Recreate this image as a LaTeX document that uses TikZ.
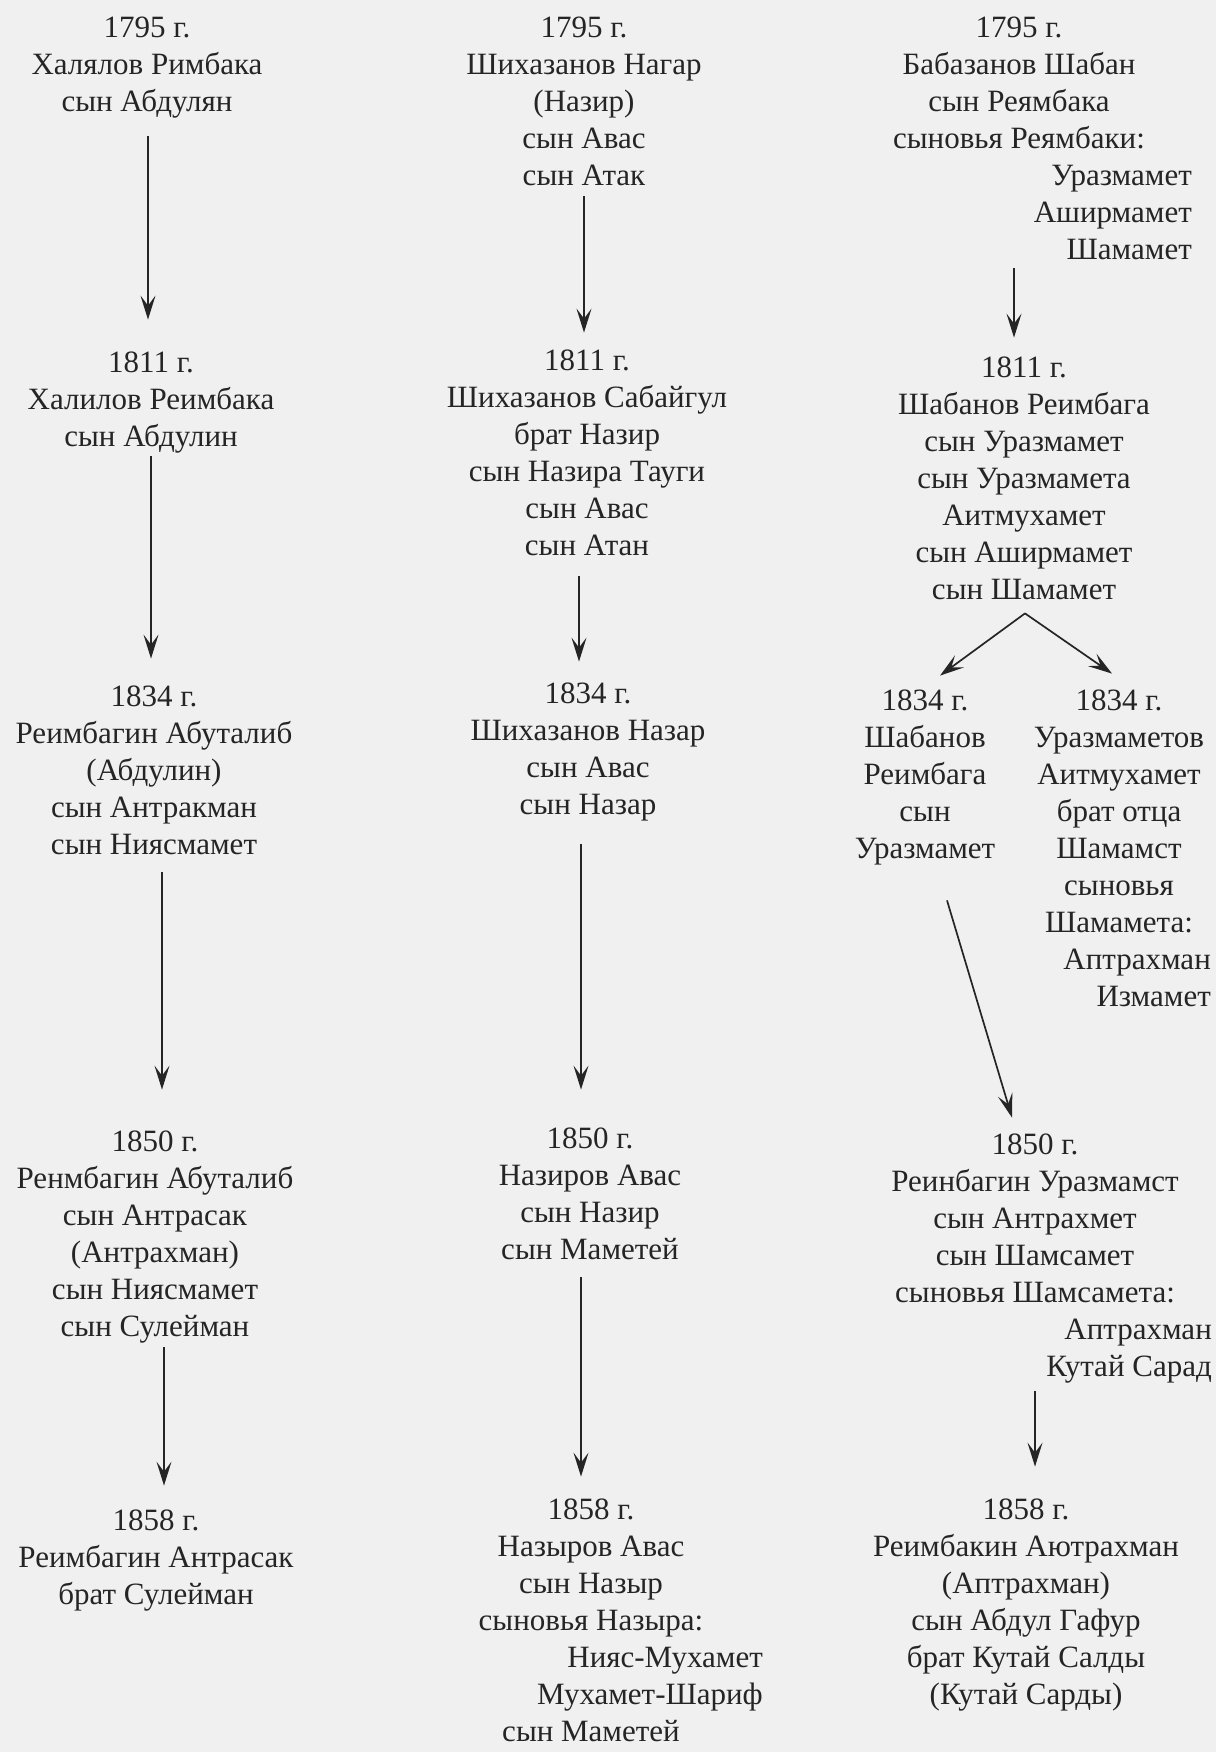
\documentclass[tikz,border=0pt]{standalone}
\usepackage{fontspec}
\setmainfont{Liberation Serif}
\usetikzlibrary{arrows.meta,fit,calc}
\definecolor{bg}{HTML}{F0F0F0}
\definecolor{ink}{HTML}{252525}
\newcommand\tlc[4]{\node[txt,anchor=base] (#1) at (#2,#3) {#4};}
\newcommand\tlr[4]{\node[txt,anchor=base east] (#1) at (#2,#3) {#4};}
\begin{document}
\begin{tikzpicture}[x=1pt,y=-1pt,
  txt/.style={inner sep=0pt, text=ink, font=\fontsize{31}{37}\selectfont, text height=22pt, text depth=7pt},
  blk/.style={inner sep=0pt, draw=none},
  arr/.style={draw=ink, line width=1.7pt, -{Stealth[length=24pt,width=15pt,inset=10pt]}}]
\fill[bg] (0,0) rectangle (1216,1752);
\useasboundingbox (0,0) rectangle (1216,1752);
% ---------- column 1
\tlc{a11}{147}{38}{1795 г.}
\tlc{a12}{147}{75}{Халялов Римбака}
\tlc{a13}{147}{112}{сын Абдулян}
\node[blk, fit=(a11)(a12)(a13)] (A1) {};
\tlc{a21}{151}{372}{1811 г.}
\tlc{a22}{151}{409}{Халилов Реимбака}
\tlc{a23}{151}{446}{сын Абдулин}
\node[blk, fit=(a21)(a22)(a23)] (A2) {};
\tlc{a31}{154}{706}{1834 г.}
\tlc{a32}{154}{743}{Реимбагин Абуталиб}
\tlc{a33}{154}{780}{(Абдулин)}
\tlc{a34}{154}{817}{сын Антракман}
\tlc{a35}{154}{854}{сын Ниясмамет}
\node[blk, fit=(a31)(a32)(a35)] (A3) {};
\tlc{a41}{155}{1151}{1850 г.}
\tlc{a42}{155}{1188}{Ренмбагин Абуталиб}
\tlc{a43}{155}{1225}{сын Антрасак}
\tlc{a44}{155}{1262}{(Антрахман)}
\tlc{a45}{155}{1299}{сын Ниясмамет}
\tlc{a46}{155}{1336}{сын Сулейман}
\node[blk, fit=(a41)(a42)(a46)] (A4) {};
\tlc{a51}{156}{1530}{1858 г.}
\tlc{a52}{156}{1567}{Реимбагин Антрасак}
\tlc{a53}{156}{1604}{брат Сулейман}
\node[blk, fit=(a51)(a52)(a53)] (A5) {};
% ---------- column 2
\tlc{b11}{584}{38}{1795 г.}
\tlc{b12}{584}{75}{Шихазанов Нагар}
\tlc{b13}{584}{112}{(Назир)}
\tlc{b14}{584}{149}{сын Авас}
\tlc{b15}{584}{186}{сын Атак}
\node[blk, fit=(b11)(b12)(b15)] (B1) {};
\tlc{b21}{587}{370}{1811 г.}
\tlc{b22}{587}{407}{Шихазанов Сабайгул}
\tlc{b23}{587}{444}{брат Назир}
\tlc{b24}{587}{481}{сын Назира Тауги}
\tlc{b25}{587}{518}{сын Авас}
\tlc{b26}{587}{555}{сын Атан}
\node[blk, fit=(b21)(b22)(b26)] (B2) {};
\tlc{b31}{588}{703}{1834 г.}
\tlc{b32}{588}{740}{Шихазанов Назар}
\tlc{b33}{588}{777}{сын Авас}
\tlc{b34}{588}{814}{сын Назар}
\node[blk, fit=(b31)(b32)(b34)] (B3) {};
\tlc{b41}{590}{1148}{1850 г.}
\tlc{b42}{590}{1185}{Назиров Авас}
\tlc{b43}{590}{1222}{сын Назир}
\tlc{b44}{590}{1259}{сын Маметей}
\node[blk, fit=(b41)(b42)(b44)] (B4) {};
\tlc{b51}{591}{1519}{1858 г.}
\tlc{b52}{591}{1556}{Назыров Авас}
\tlc{b53}{591}{1593}{сын Назыр}
\tlc{b54}{591}{1630}{сыновья Назыра:}
\tlr{b55}{763}{1667}{Нияс-Мухамет}
\tlr{b56}{763}{1704}{Мухамет-Шариф}
\tlc{b57}{591}{1741}{сын Маметей}
\node[blk, fit=(b51)(b54)(b56)(b57)] (B5) {};
% ---------- column 3
\tlc{c11}{1019}{38}{1795 г.}
\tlc{c12}{1019}{75}{Бабазанов Шабан}
\tlc{c13}{1019}{112}{сын Реямбака}
\tlc{c14}{1019}{149}{сыновья Реямбаки:}
\tlr{c15}{1192}{186}{Уразмамет}
\tlr{c16}{1192}{223}{Аширмамет}
\tlr{c17}{1192}{260}{Шамамет}
\node[blk, fit=(c11)(c14)(c17)] (C1) {};
\tlc{c21}{1024}{377}{1811 г.}
\tlc{c22}{1024}{414}{Шабанов Реимбага}
\tlc{c23}{1024}{451}{сын Уразмамет}
\tlc{c24}{1024}{488}{сын Уразмамета}
\tlc{c25}{1024}{525}{Аитмухамет}
\tlc{c26}{1024}{562}{сын Аширмамет}
\tlc{c27}{1024}{599}{сын Шамамет}
\node[blk, fit=(c21)(c22)(c27)] (C2) {};
\tlc{d11}{925}{710}{1834 г.}
\tlc{d12}{925}{747}{Шабанов}
\tlc{d13}{925}{784}{Реимбага}
\tlc{d14}{925}{821}{сын}
\tlc{d15}{925}{858}{Уразмамет}
\node[blk, fit=(d11)(d12)(d15)] (D1) {};
\tlc{e11}{1119}{710}{1834 г.}
\tlc{e12}{1119}{747}{Уразмаметов}
\tlc{e13}{1119}{784}{Аитмухамет}
\tlc{e14}{1119}{821}{брат отца}
\tlc{e15}{1119}{858}{Шамамст}
\tlc{e16}{1119}{895}{сыновья}
\tlc{e17}{1119}{932}{Шамамета:}
\tlr{e18}{1211}{969}{Аптрахман}
\tlr{e19}{1211}{1006}{Измамет}
\node[blk, fit=(e11)(e12)(e19)] (E1) {};
\tlc{c41}{1035}{1154}{1850 г.}
\tlc{c42}{1035}{1191}{Реинбагин Уразмамст}
\tlc{c43}{1035}{1228}{сын Антрахмет}
\tlc{c44}{1035}{1265}{сын Шамсамет}
\tlc{c45}{1035}{1302}{сыновья Шамсамета:}
\tlr{c46}{1212}{1339}{Аптрахман}
\tlr{c47}{1212}{1376}{Кутай Сарад}
\node[blk, fit=(c41)(c42)(c47)] (C4) {};
\tlc{c51}{1026}{1519}{1858 г.}
\tlc{c52}{1026}{1556}{Реимбакин Аютрахман}
\tlc{c53}{1026}{1593}{(Аптрахман)}
\tlc{c54}{1026}{1630}{сын Абдул Гафур}
\tlc{c55}{1026}{1667}{брат Кутай Салды}
\tlc{c56}{1026}{1704}{(Кутай Сарды)}
\node[blk, fit=(c51)(c52)(c56)] (C5) {};
% ---------- arrows
\draw[arr] ($(A1.south -| a11)+(1,17)$) -- ($(A2.north -| a11)+(1,-30)$);
\draw[arr] ($(A2.south -| a21)+(0,3)$) -- ($(A3.north -| a21)+(0,-25)$);
\draw[arr] ($(A3.south -| a31)+(8,11)$) -- ($(A4.north -| a31)+(8,-39)$);
\draw[arr] ($(A4.south -| a41)+(9,4)$) -- ($(A5.north -| a41)+(9,-22)$);
\draw[arr] ($(B1.south -| b11)+(0,3)$) -- ($(B2.north -| b11)+(0,-15)$);
\draw[arr] ($(B2.south -| b21)+(-8,14)$) -- ($(B3.north -| b21)+(-8,-19)$);
\draw[arr] ($(B3.south -| b31)+(-7,23)$) -- ($(B4.north -| b31)+(-7,-36)$);
\draw[arr] ($(B4.south -| b41)+(-9,11)$) -- ($(B5.north -| b41)+(-9,-20)$);
\draw[arr] ($(C1.south -| c11)+(-5,1)$) -- ($(C2.north -| c11)+(-5,-17)$);
\draw[arr] ($(C2.south -| c21)+(1,7)$) -- ($(D1.north -| d11)+(15,-12)$);
\draw[arr] ($(C2.south -| c21)+(1,7)$) -- ($(E1.north -| e11)+(-7,-14)$);
\draw[arr] ($(D1.south -| d11)+(22,35)$) -- ($(C4.north -| c41)+(-23,-14)$);
\draw[arr] ($(C4.south -| c41)+(0,8)$) -- ($(C5.north -| c41)+(0,-30)$);
\end{tikzpicture}
\end{document}
